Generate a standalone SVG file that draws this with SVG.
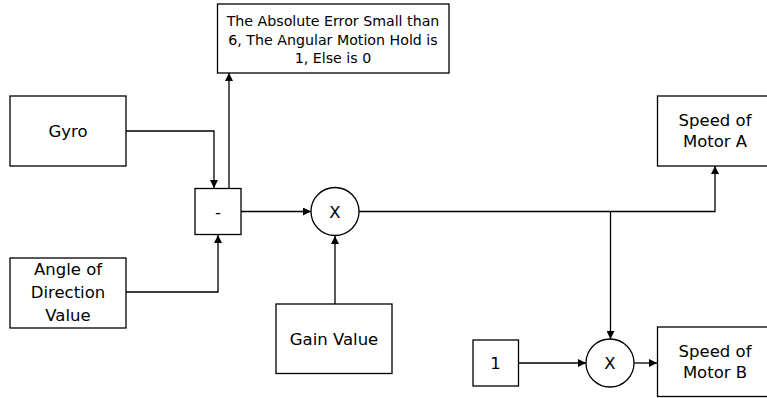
<svg xmlns="http://www.w3.org/2000/svg" width="767" height="398" viewBox="0 0 767 398">
  <style>
    .box { fill: #fff; stroke: #000; stroke-width: 1.3; }
    .lbl { font-family: "DejaVu Sans", Verdana, sans-serif; font-size: 16.5px; fill: #000; text-anchor: middle; }
    .small { font-size: 14.2px; }
    .wire { fill: none; stroke: #000; stroke-width: 1.3; }
  </style>
  <defs>
    <marker id="arrow" viewBox="0 0 10 10" refX="10" refY="5" markerWidth="8" markerHeight="8" markerUnits="userSpaceOnUse" orient="auto">
      <path d="M0,0 L10,5 L0,10 Z" fill="#000"/>
    </marker>
  </defs>

  <rect width="767" height="398" fill="#fff"/>

  <!-- connectors -->
  <g id="connectors" class="wire" marker-end="url(#arrow)">
    <path d="M126,131 H214 V188"/>
    <path d="M126,292 H218 V235"/>
    <path d="M229,188 V73"/>
    <path d="M241,211.5 H311"/>
    <path d="M335,304 V236"/>
    <path d="M359,211.5 H715 V166"/>
    <path d="M610.5,211.5 V339"/>
    <path d="M518,363 H586"/>
    <path d="M634,363 H657"/>
  </g>

  <!-- nodes -->
  <g id="condition">
    <rect class="box" x="217.5" y="4" width="231.5" height="69"/>
    <text class="lbl small" x="333" y="26">The Absolute Error Small than</text>
    <text class="lbl small" x="333" y="44.5">6, The Angular Motion Hold is</text>
    <text class="lbl small" x="333" y="63">1, Else is 0</text>
  </g>

  <g id="gyro">
    <rect class="box" x="10" y="96" width="116" height="70"/>
    <text class="lbl" x="68" y="137">Gyro</text>
  </g>

  <g id="angle">
    <rect class="box" x="10" y="258" width="116" height="70"/>
    <text class="lbl" x="68" y="275">Angle of</text>
    <text class="lbl" x="68" y="298">Direction</text>
    <text class="lbl" x="68" y="321">Value</text>
  </g>

  <g id="subtract">
    <rect class="box" x="195" y="188.5" width="46" height="46"/>
    <text class="lbl" x="218" y="217.5">-</text>
  </g>

  <g id="multiply-a">
    <circle class="box" cx="335" cy="211.5" r="24"/>
    <text class="lbl" x="335" y="217.5">X</text>
  </g>

  <g id="gain">
    <rect class="box" x="276" y="304" width="116" height="69.5"/>
    <text class="lbl" x="334" y="345">Gain Value</text>
  </g>

  <g id="motor-a">
    <rect class="box" x="657.5" y="96" width="116" height="70"/>
    <text class="lbl" x="715" y="126">Speed of</text>
    <text class="lbl" x="715" y="147">Motor A</text>
  </g>

  <g id="one">
    <rect class="box" x="473" y="340" width="45.5" height="46"/>
    <text class="lbl" x="495.5" y="369">1</text>
  </g>

  <g id="multiply-b">
    <circle class="box" cx="610" cy="363" r="24"/>
    <text class="lbl" x="610" y="369">X</text>
  </g>

  <g id="motor-b">
    <rect class="box" x="657.5" y="327" width="116" height="69.5"/>
    <text class="lbl" x="715" y="357">Speed of</text>
    <text class="lbl" x="715" y="378">Motor B</text>
  </g>
</svg>
